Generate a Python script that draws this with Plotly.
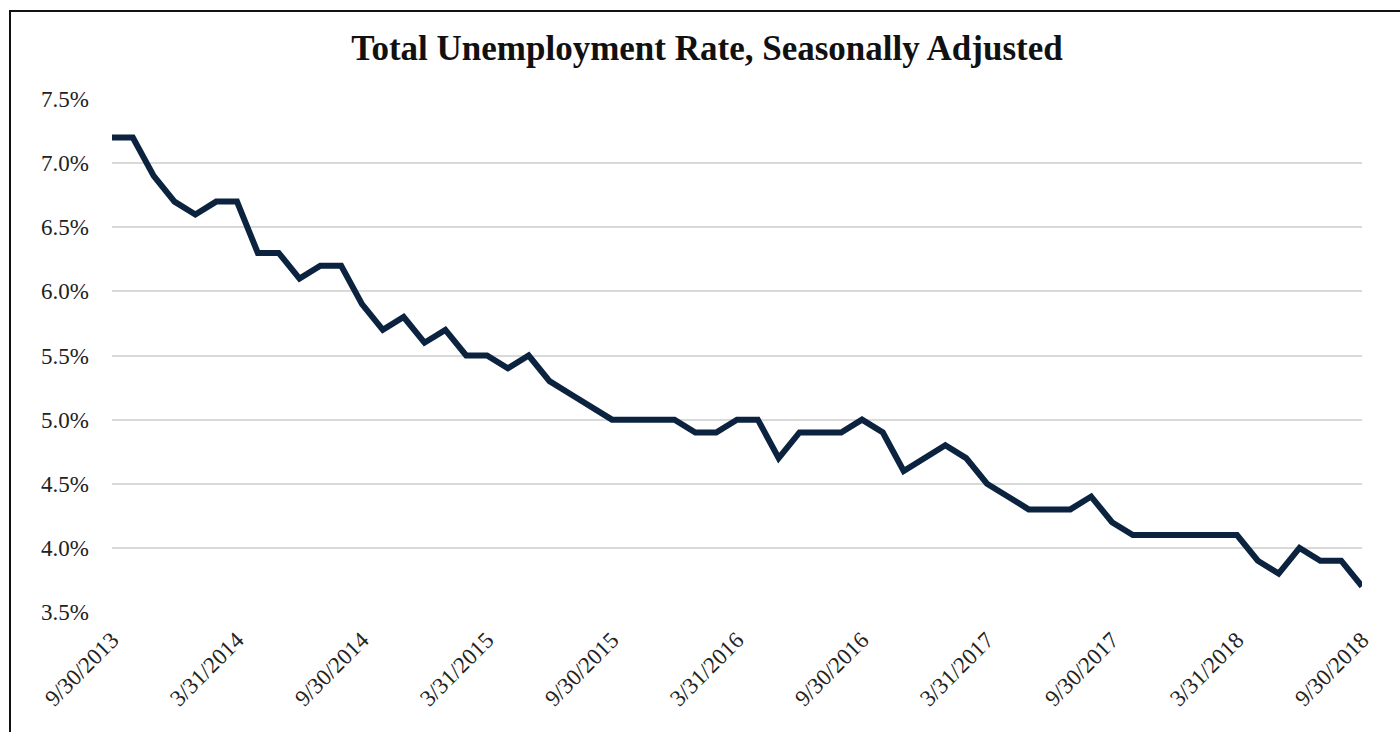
import pandas as pd
import plotly.graph_objects as go

# Month-end observation dates, 9/30/2013 .. 9/30/2018
dates = pd.date_range("2013-09-30", "2018-09-30", freq="ME")
categories = [f"{d.month}/{d.day}/{d.year}" for d in dates]

unemployment_rate = [
    7.2, 7.2, 6.9, 6.7, 6.6, 6.7, 6.7, 6.3, 6.3, 6.1, 6.2, 6.2,
    5.9, 5.7, 5.8, 5.6, 5.7, 5.5, 5.5, 5.4, 5.5, 5.3, 5.2, 5.1,
    5.0, 5.0, 5.0, 5.0, 4.9, 4.9, 5.0, 5.0, 4.7, 4.9, 4.9, 4.9,
    5.0, 4.9, 4.6, 4.7, 4.8, 4.7, 4.5, 4.4, 4.3, 4.3, 4.3, 4.4,
    4.2, 4.1, 4.1, 4.1, 4.1, 4.1, 4.1, 3.9, 3.8, 4.0, 3.9, 3.9,
    3.7,
]

x_tick_labels = [
    "9/30/2013", "3/31/2014", "9/30/2014", "3/31/2015", "9/30/2015",
    "3/31/2016", "9/30/2016", "3/31/2017", "9/30/2017", "3/31/2018",
    "9/30/2018",
]
y_tick_values = [3.5, 4.0, 4.5, 5.0, 5.5, 6.0, 6.5, 7.0, 7.5]
y_tick_labels = [f"{v:.1f}%" for v in y_tick_values]

title_text = "Total Unemployment Rate, Seasonally Adjusted"

FONT = "Liberation Serif, Times New Roman, serif"
W, H = 1400, 732
L, R, T, B = 112, 38, 99, 120
plot_w = W - L - R
plot_h = H - T - B

def px_x(p):
    return (p - L) / plot_w

def px_y(p):
    return (H - B - p) / plot_h

fig = go.Figure()
fig.add_trace(go.Scatter(
    x=categories,
    y=unemployment_rate,
    mode="lines",
    line=dict(color="#0c2340", width=6),
    hoverinfo="x+y",
    showlegend=False,
))

fig.update_layout(
    width=W, height=H,
    margin=dict(l=L, r=R, t=T, b=B),
    paper_bgcolor="white",
    plot_bgcolor="white",
    title=dict(
        text=f"<b>{title_text}</b>",
        x=0.505, xanchor="center",
        y=1 - 48 / H, yanchor="middle",
        font=dict(family=FONT, size=35, color="#111111"),
    ),
    xaxis=dict(
        type="category",
        range=[0, len(categories) - 1],
        tickmode="array",
        tickvals=x_tick_labels,
        ticktext=x_tick_labels,
        tickangle=-45,
        showgrid=False,
        showline=False,
        zeroline=False,
        ticks="",
        ticklabelstandoff=9,
        tickfont=dict(family=FONT, size=23, color="#222222"),
    ),
    yaxis=dict(
        range=[3.5, 7.5],
        tickmode="array",
        tickvals=y_tick_values,
        ticktext=y_tick_labels,
        showgrid=True,
        gridcolor="#d9d9d9",
        gridwidth=2,
        showline=False,
        zeroline=False,
        ticks="",
        ticklabelstandoff=22,
        tickfont=dict(family=FONT, size=23, color="#222222"),
    ),
    shapes=[dict(
        type="rect", xref="paper", yref="paper",
        x0=px_x(10), x1=px_x(1410), y0=px_y(745), y1=px_y(11),
        line=dict(color="#111111", width=2),
        fillcolor="rgba(0,0,0,0)",
        layer="below",
    )],
)

fig.write_html("out.html")
